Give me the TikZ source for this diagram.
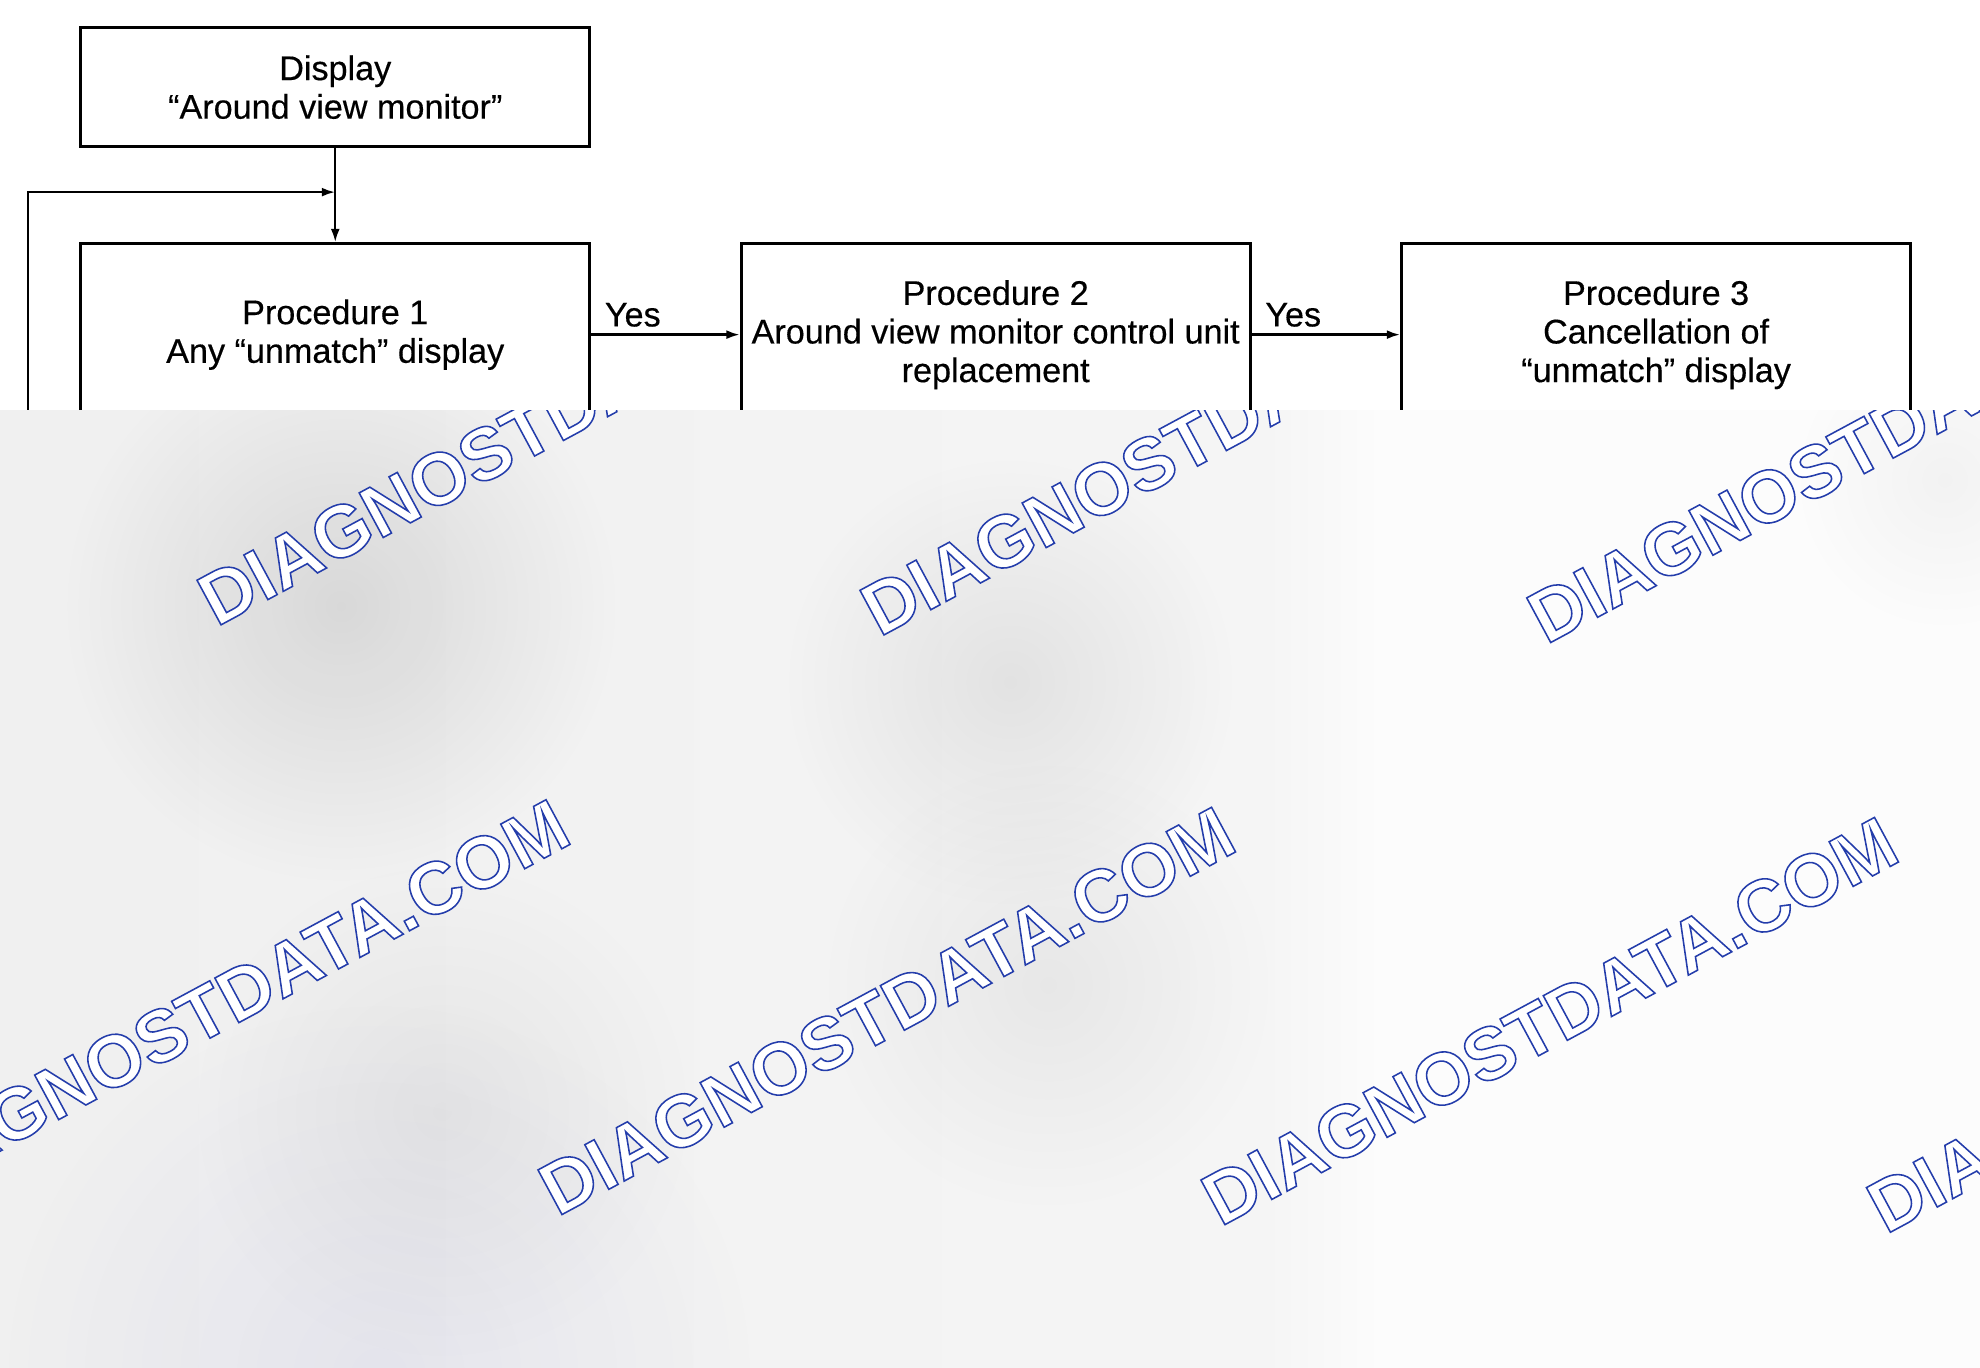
\documentclass[tikz,border=0pt]{standalone}
\usepackage{fontspec}
\setmainfont{Liberation Sans}[FakeBold=0.4]
\newfontfamily\wmfont{Liberation Sans Bold}
\usetikzlibrary{positioning, arrows.meta, fadings}
\tikzfading[name=blob, inner color=transparent!0, outer color=transparent!100]
% hollow letters: white fill, blue outline
\newcommand\hollow[1]{\special{pdf:literal direct 2 Tr 0.35 w 0.14 0.24 0.67 RG 1 1 1 rg}#1\special{pdf:literal direct 0 Tr 0 g 0 G}}

\begin{document}
\begin{tikzpicture}[node distance=1.96cm, on grid, auto, >={Latex[length=3pt,width=2pt]},
    box/.style={draw, line width=0.65pt, minimum width=4.03cm, minimum height=0.94cm, align=center, inner sep=1pt, font=\fontsize{7.7pt}{8.7pt}\selectfont},
    procbox/.style={box, minimum height=1.44cm},
    line/.style={line width=0.55pt},
    yeslab/.style={pos=0.28, inner sep=1.5pt, font=\fontsize{7.7pt}{8.7pt}\selectfont},
    wm/.style={anchor=base west, rotate=28.3, inner sep=0pt, font=\wmfont\fontsize{16.6pt}{16.6pt}\selectfont}]
  \useasboundingbox (0,0) rectangle (15.68,-10.826);
  \node[box] (disp) at (2.655,-0.69) {Display\\“Around view monitor”};
  \node[procbox, below=of disp] (proc1) {Procedure 1\\Any “unmatch” display};
  \node[procbox, right=5.23cm of proc1] (proc2) {Procedure 2\\Around view monitor control unit\\replacement};
  \node[procbox, right=5.23cm of proc2] (proc3) {Procedure 3\\Cancellation of\\“unmatch” display};
  \coordinate[below=0.35cm of disp.south] (join);
  \coordinate (back) at (0.22,-4.2);
  \draw[line, ->] (disp) -- (proc1);
  \draw[line, ->] (back) |- (join);
  \path (proc1) edge[line, ->] node[yeslab] {Yes} (proc2);
  \path (proc2) edge[line, ->] node[yeslab] {Yes} (proc3);
  % grey overlay with watermark
  \begin{scope}
    \clip (0,-3.25) rectangle (15.68,-10.83);
    \shade[left color=black!6, right color=black!4] (0,-3.25) rectangle (10.0,-10.83);
    \shade[left color=black!4, right color=black!1] (10.0,-3.25) rectangle (11.0,-10.83);
    \fill[black!1] (11.0,-3.25) rectangle (15.68,-10.83);
    \foreach \x/\y/\r/\o in {2.7/4.8/2.2/0.10, 8.0/5.4/1.8/0.07, 3.5/8.8/2.0/0.05, 8.3/7.8/1.8/0.05, 15.4/3.8/1.2/0.04}
      \fill[black, opacity=\o, path fading=blob] (\x,-\y) circle (\r);
    \fill[blue!40!gray, opacity=0.08, path fading=blob] (3.0,-10.9) circle (3.0);
    \foreach \x/\y [count=\i] in {1.71/4.97, 6.96/5.05, 12.24/5.11, -0.86/9.58, 4.41/9.64, 9.66/9.72, 14.93/9.78}
      \node[wm] (wm\i) at (\x,-\y) {\hollow{DIAGNOSTDATA.COM}};
  \end{scope}
\end{tikzpicture}
\end{document}
